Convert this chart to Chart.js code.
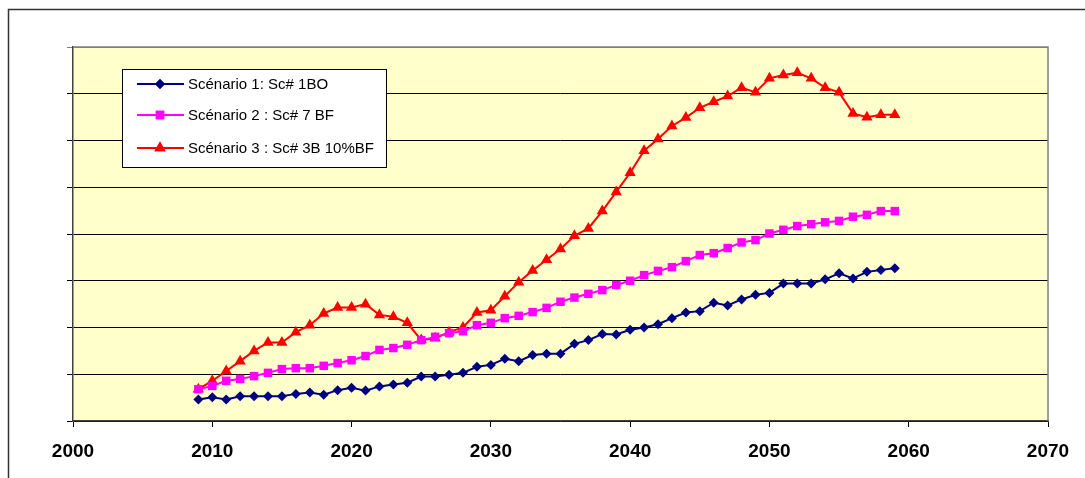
<!DOCTYPE html>
<html>
<head>
<meta charset="utf-8">
<script src="https://cdn.jsdelivr.net/npm/chart.js@4"></script>
<style>
  body { margin: 0; background: #fff; }
  canvas { display: block; }
</style>
</head>
<body>
<canvas id="chart" width="1085" height="478"></canvas>
<script>
const years = [
  2009, 2010, 2011, 2012, 2013, 2014, 2015, 2016, 2017, 2018,
  2019, 2020, 2021, 2022, 2023, 2024, 2025, 2026, 2027, 2028,
  2029, 2030, 2031, 2032, 2033, 2034, 2035, 2036, 2037, 2038,
  2039, 2040, 2041, 2042, 2043, 2044, 2045, 2046, 2047, 2048,
  2049, 2050, 2051, 2052, 2053, 2054, 2055, 2056, 2057, 2058, 2059,
];

const scenario1 = [
  0.46, 0.51, 0.46, 0.53, 0.53, 0.53, 0.53, 0.58, 0.61, 0.56,
  0.66, 0.71, 0.65, 0.74, 0.78, 0.82, 0.95, 0.95, 0.99, 1.03,
  1.16, 1.20, 1.33, 1.28, 1.41, 1.44, 1.44, 1.65, 1.73, 1.86,
  1.85, 1.95, 2.00, 2.07, 2.20, 2.32, 2.35, 2.53, 2.47, 2.60,
  2.70, 2.74, 2.94, 2.94, 2.94, 3.03, 3.16, 3.05, 3.19, 3.23, 3.27,
];

const scenario2 = [
  0.68, 0.75, 0.86, 0.90, 0.96, 1.03, 1.11, 1.13, 1.13, 1.18,
  1.24, 1.30, 1.39, 1.52, 1.56, 1.63, 1.73, 1.80, 1.88, 1.92,
  2.05, 2.10, 2.20, 2.25, 2.33, 2.42, 2.55, 2.64, 2.72, 2.80,
  2.91, 3.00, 3.12, 3.21, 3.29, 3.42, 3.55, 3.59, 3.70, 3.82,
  3.87, 4.01, 4.09, 4.17, 4.21, 4.25, 4.28, 4.37, 4.41, 4.49, 4.49,
];

const scenario3 = [
  0.68, 0.86, 1.07, 1.28, 1.50, 1.68, 1.68, 1.90, 2.05, 2.30,
  2.43, 2.43, 2.50, 2.27, 2.23, 2.10, 1.73, 1.77, 1.90, 2.00,
  2.32, 2.37, 2.67, 2.97, 3.22, 3.45, 3.68, 3.96, 4.12, 4.49,
  4.90, 5.31, 5.78, 6.03, 6.31, 6.49, 6.70, 6.83, 6.95, 7.13,
  7.03, 7.33, 7.40, 7.45, 7.33, 7.13, 7.03, 6.58, 6.50, 6.55, 6.55,
];

const seriesLabels = [
  'Scénario 1: Sc# 1BO',
  'Scénario 2 : Sc# 7 BF',
  'Scénario 3 : Sc# 3B 10%BF',
];

const xTicks = [2000, 2010, 2020, 2030, 2040, 2050, 2060, 2070];

const toPoints = (values) => values.map((v, i) => ({ x: years[i], y: v }));

const createDataset = (label, values, color, pointStyle, radius) => {
  return {
    label: label,
    data: toPoints(values),
    borderColor: color,
    backgroundColor: color,
    borderWidth: 2,
    pointStyle: pointStyle,
    pointRadius: radius,
    pointHoverRadius: radius,
    pointBorderWidth: 0,
    tension: 0,
  };
};

// plot background, outer frame and the boxed legend
const frame = {
  id: 'frame',
  beforeDraw(chart) {
    const { ctx, chartArea: a } = chart;
    ctx.save();
    ctx.fillStyle = '#FFFFCC';
    ctx.fillRect(a.left, a.top, a.right - a.left, a.bottom - a.top);
    ctx.strokeStyle = '#333';
    ctx.lineWidth = 1.5;
    ctx.beginPath();
    ctx.moveTo(8.5, 478);
    ctx.lineTo(8.5, 9.5);
    ctx.lineTo(1085, 9.5);
    ctx.stroke();
    ctx.restore();
  },
  afterDatasetsDraw(chart) {
    const { ctx, chartArea: a } = chart;
    ctx.save();
    ctx.strokeStyle = '#808080';
    ctx.lineWidth = 1.5;
    ctx.beginPath();
    ctx.moveTo(a.left, a.top);
    ctx.lineTo(a.right, a.top);
    ctx.lineTo(a.right, a.bottom);
    ctx.stroke();

    const bx = 122.5, by = 69.5, bw = 264, bh = 98;
    ctx.fillStyle = '#fff';
    ctx.fillRect(bx, by, bw, bh);
    ctx.strokeStyle = '#000';
    ctx.lineWidth = 1;
    ctx.strokeRect(bx, by, bw, bh);

    const rows = [84, 115, 148];
    ctx.font = '15px "Liberation Sans", Arial, sans-serif';
    ctx.textBaseline = 'middle';
    chart.data.datasets.forEach((ds, i) => {
      const y = rows[i];
      ctx.strokeStyle = ds.borderColor;
      ctx.lineWidth = 2;
      ctx.beginPath();
      ctx.moveTo(137, y);
      ctx.lineTo(184, y);
      ctx.stroke();
      ctx.fillStyle = ds.backgroundColor;
      Chart.helpers.drawPoint(ctx, { pointStyle: ds.pointStyle, radius: ds.pointRadius, borderWidth: 0 }, 160, y);
      ctx.fill();
      ctx.fillStyle = '#000';
      ctx.fillText(ds.label, 188, y + 1);
    });
    ctx.restore();
  },
};

new Chart(document.getElementById('chart'), {
  type: 'line',
  data: {
    datasets: [
      createDataset(seriesLabels[0], scenario1, '#000080', 'rectRot', 5),
      createDataset(seriesLabels[1], scenario2, '#FF00FF', 'rect', 6),
      createDataset(seriesLabels[2], scenario3, '#FF0000', 'triangle', 6.5),
    ],
  },
  options: {
    responsive: false,
    animation: false,
    layout: {
      padding: { left: 67, top: 47, right: 37, bottom: 0 },
    },
    scales: {
      x: {
        type: 'linear',
        min: 2000,
        max: 2070,
        afterBuildTicks: (scale) => {
          scale.ticks = xTicks.map((v) => ({ value: v }));
        },
        afterFit: (scale) => {
          scale.height = 57;
        },
        grid: {
          drawOnChartArea: false,
          drawTicks: true,
          tickLength: 6,
          color: '#000',
        },
        border: { color: '#404040', width: 1.5 },
        ticks: {
          padding: 13,
          color: '#000',
          font: { family: '"Liberation Sans", Arial, sans-serif', size: 19, weight: 'bold' },
          callback: (v) => String(v),
        },
      },
      y: {
        min: 0,
        max: 8,
        afterFit: (scale) => {
          scale.width = 6;
        },
        ticks: { stepSize: 1, display: false },
        grid: {
          color: (c) => (c.tick && c.tick.value === 8 ? '#808080' : '#000'),
          lineWidth: 1,
          drawTicks: true,
          tickLength: 6,
        },
        border: { color: '#404040', width: 1.5 },
      },
    },
    plugins: {
      legend: { display: false },
      tooltip: { enabled: false },
    },
  },
  plugins: [frame],
});
</script>
</body>
</html>
